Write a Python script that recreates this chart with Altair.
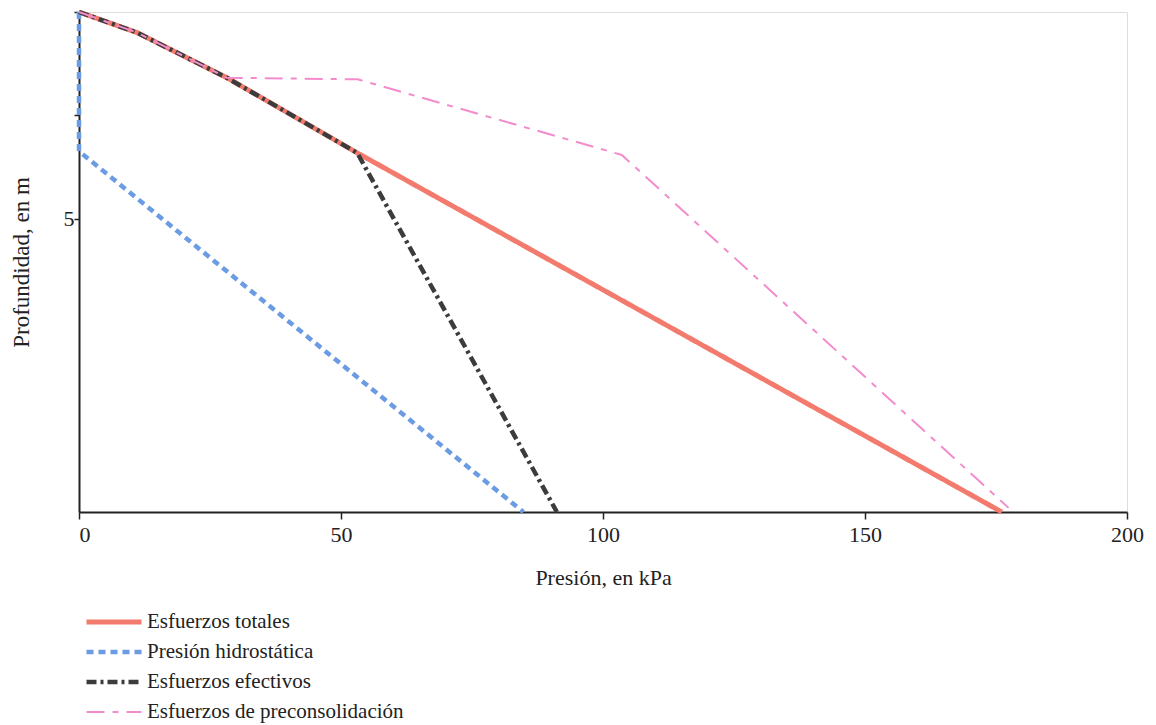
import altair as alt
import pandas as pd

series_names = ["Esfuerzos totales", "Presión hidrostática", "Esfuerzos efectivos", "Esfuerzos de preconsolidación"]

total_p = [0, 11.1, 28.2, 53.1, 176.1]
total_z = [0, 0.50, 1.59, 3.41, 12.1]

hydro_p = [0, 0, 84.8]
hydro_z = [0, 3.37, 12.1]

eff_p = [0, 11.1, 28.2, 53.1, 91.2]
eff_z = [0, 0.50, 1.59, 3.41, 12.1]

pre_p = [0, 11.1, 28.2, 53.2, 103.6, 177.4]
pre_z = [0, 0.50, 1.59, 1.63, 3.46, 12.0]

x_ticks = [0, 50, 100, 150, 200]
y_ticks = [0, 2.5, 5]

rows = []
for name, ps, zs in zip(series_names, [total_p, hydro_p, eff_p, pre_p], [total_z, hydro_z, eff_z, pre_z]):
    for i, (p, z) in enumerate(zip(ps, zs)):
        rows.append({"serie": name, "p": p, "z": z, "i": i})
df = pd.DataFrame(rows)

FONT = "Liberation Serif"
colors = ["#f27b6d", "#6b9be3", "#3c3c3c", "#f38ccd"]
dashes = [[1, 0], [7, 5], [10, 4, 3, 4], [18, 8, 6, 8]]
widths = [5, 4.5, 4.5, 2]

chart = alt.Chart(df).mark_line(clip=False).encode(
    x=alt.X("p:Q", scale=alt.Scale(domain=[0, 200], nice=False),
            axis=alt.Axis(values=x_ticks, title="Presión, en kPa", grid=False,
                          domainColor="#222", domainWidth=2, tickColor="#222", tickWidth=1.5, tickSize=7,
                          labelFont=FONT, labelFontSize=22, labelColor="#222", labelPadding=5,
                          labelAlign={"condition": {"test": "datum.value == 0", "value": "left"}, "value": "center"},
                          titleFont=FONT, titleFontSize=22, titleFontWeight="normal", titleColor="#222",
                          titlePadding=22)),
    y=alt.Y("z:Q", scale=alt.Scale(domain=[0, 12.1], reverse=True, nice=False),
            axis=alt.Axis(values=y_ticks, labelExpr="datum.value == 5 ? '5' : ''", title="Profundidad, en m",
                          grid=False, domainColor="#222", domainWidth=2, tickColor="#222", tickWidth=1.5, tickSize=5,
                          labelFont=FONT, labelFontSize=22, labelColor="#222", labelPadding=0,
                          titleFont=FONT, titleFontSize=23, titleFontWeight="normal", titleColor="#222",
                          titlePadding=30)),
    color=alt.Color("serie:N", scale=alt.Scale(domain=series_names, range=colors), sort=series_names,
                    legend=alt.Legend(orient="none", legendX=5, legendY=598, title=None, direction="vertical",
                                      symbolType="stroke", symbolSize=3025, labelFont=FONT, labelFontSize=21,
                                      labelColor="#222", labelOffset=3, labelLimit=0, clipHeight=24, rowPadding=6)),
    strokeDash=alt.StrokeDash("serie:N", scale=alt.Scale(domain=series_names, range=dashes), sort=series_names),
    strokeWidth=alt.StrokeWidth("serie:N", scale=alt.Scale(type="ordinal", domain=series_names, range=widths),
                                sort=series_names),
    order="i:Q",
).properties(
    width=1048, height=500,
    autosize=alt.AutoSizeParams(type="none"),
    padding={"left": 71, "top": 4, "right": 21, "bottom": 215},
).configure_view(stroke=None).configure(background="white")

chart.save("out.html", embed_options={"renderer": "svg", "actions": False})
